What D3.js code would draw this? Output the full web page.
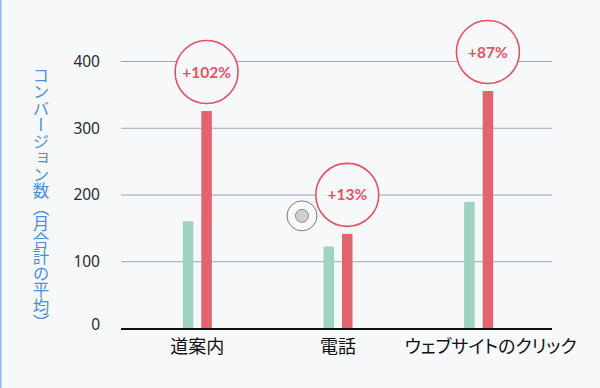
<!DOCTYPE html>
<html>
<head>
<meta charset="utf-8">
<script src="https://cdn.jsdelivr.net/npm/d3@7"></script>
<style>
  html, body { margin: 0; padding: 0; background: #f7f8fa; }
  svg { display: block; font-family: "Noto Sans CJK JP", "Noto Sans", sans-serif; }
</style>
</head>
<body>
<div id="chart"></div>
<script>
// data
var categories = ["道案内", "電話", "ウェブサイトのクリック"];
var before = [160, 122, 189];
var after = [325, 141, 355];
var changes = ["+102%", "+13%", "+87%"];
var yTicks = [0, 100, 200, 300, 400];
var yTitle = "コンバージョン数（月合計の平均）";

var width = 600, height = 388;

var svg = d3.select("#chart")
  .append("svg")
    .attr("width", width)
    .attr("height", height);

svg.append("rect")
  .attr("width", width).attr("height", height)
  .attr("fill", "#f7f8fa");

// blue edge on the left
svg.append("rect")
  .attr("x", 0).attr("y", 0)
  .attr("width", 1.5).attr("height", height)
  .attr("fill", "#8bb9f0");

var x = d3.scaleBand()
  .domain(categories)
  .range([127, 549]);

var y = d3.scaleLinear()
  .domain([0, 400])
  .range([328, 61]);

// gridlines + tick labels
var yAxis = svg.append("g")
  .attr("transform", "translate(121,0)")
  .call(d3.axisLeft(y).tickValues(yTicks).tickSize(-431).tickPadding(21))
yAxis.select(".domain").remove();
yAxis.selectAll(".tick line")
  .attr("stroke", function(d) { return d === 0 ? "none" : "#9ea6b4"; })
  .attr("stroke-width", 1.2);
yAxis.selectAll(".tick text")
  .attr("fill", "#2a2a2a")
  .style("font-size", "15.5px")
  .style("font-family", "'Noto Sans', sans-serif")
  .attr("dy", "0.34em");
yAxis.selectAll(".tick").filter(function(d) { return d === 0; })
  .select("text").attr("dy", "0.1em");

// y title, vertical
svg.append("text")
  .attr("x", 41)
  .attr("y", 67)
  .style("writing-mode", "vertical-rl")
  .style("font-size", "16.5px")
  .attr("fill", "#4a8fdb")
  .text(yTitle);

var barW = 10.5;
var gap = 8;

// before bars (green)
svg.selectAll(".bar-before")
  .data(categories)
  .enter().append("rect")
    .attr("class", "bar-before")
    .attr("x", function(d) { return x(d) + x.bandwidth() / 2 - gap / 2 - barW; })
    .attr("y", function(d, i) { return y(before[i]); })
    .attr("width", barW)
    .attr("height", function(d, i) { return y(0) - y(before[i]) + 1; })
    .attr("fill", "#9fd2c0");

// after bars (red)
svg.selectAll(".bar-after")
  .data(categories)
  .enter().append("rect")
    .attr("class", "bar-after")
    .attr("x", function(d) { return x(d) + x.bandwidth() / 2 + gap / 2; })
    .attr("y", function(d, i) { return y(after[i]); })
    .attr("width", barW)
    .attr("height", function(d, i) { return y(0) - y(after[i]) + 1; })
    .attr("fill", "#e3636f");

// baseline
svg.append("line")
  .attr("x1", 121).attr("x2", 552)
  .attr("y1", y(0) + 1).attr("y2", y(0) + 1)
  .attr("stroke", "#111")
  .attr("stroke-width", 1.8);

// category labels
svg.selectAll(".cat")
  .data(categories)
  .enter().append("text")
    .attr("class", "cat")
    .attr("x", function(d, i) { return x(d) + x.bandwidth() / 2 + (i === 2 ? 12 : 0); })
    .attr("y", 353)
    .attr("text-anchor", "middle")
    .style("font-size", "18px")
    .style("font-feature-settings", "'palt'")
    .attr("fill", "#111")
    .text(function(d) { return d; });

// change bubbles above the red bars
var bubble = svg.selectAll(".bubble")
  .data(categories)
  .enter().append("g")
    .attr("class", "bubble")
    .attr("transform", function(d, i) {
      var cx = x(d) + x.bandwidth() / 2 + gap / 2 + barW / 2;
      return "translate(" + cx + "," + (y(after[i]) - 39) + ")";
    });
bubble.append("circle")
  .attr("r", 31.5)
  .attr("fill", "#f7f8fa")
  .attr("stroke", "#e3535f")
  .attr("stroke-width", 1.6);
bubble.append("text")
  .attr("text-anchor", "middle")
  .attr("dy", "0.36em")
  .style("font-size", "15.5px")
  .style("font-weight", "bold")
  .style("font-family", "Lato, 'Noto Sans', sans-serif")
  .attr("fill", "#e3535f")
  .text(function(d, i) { return changes[i]; });

// small grey button beside the middle group
var btn = svg.append("g")
  .attr("transform", "translate(" + (x(categories[1]) + x.bandwidth() / 2 - 36) + "," + y(168) + ")");
btn.append("circle").attr("r", 15).attr("fill", "#fafafa").attr("stroke", "#7a7a7a").attr("stroke-width", 1);
btn.append("circle").attr("r", 6.5).attr("fill", "#cfcfcf").attr("stroke", "#8a8a8a").attr("stroke-width", 1);
</script>
</body>
</html>
